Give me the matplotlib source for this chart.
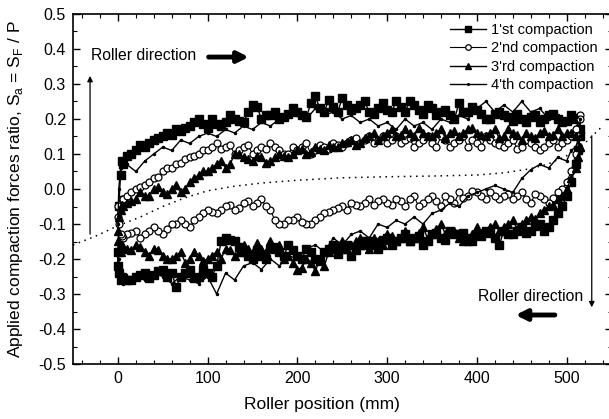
import matplotlib
matplotlib.use("Agg")
import matplotlib.pyplot as plt
from matplotlib.ticker import MultipleLocator

plt.rcParams['font.family'] = ['Liberation Sans', 'DejaVu Sans']
plt.rcParams['axes.unicode_minus'] = False
plt.rcParams['mathtext.fontset'] = 'custom'
plt.rcParams['mathtext.rm'] = 'Liberation Sans'

# roller position grids (mm)
x_up = [0, 1, 3, 6, 10, 20, 30, 40, 50, 60, 70, 80, 90, 100, 110, 120, 130, 140, 150, 160,
        170, 180, 190, 200, 210, 220, 230, 240, 250, 260, 270, 280, 290, 300, 310, 320, 330,
        340, 350, 360, 370, 380, 390, 400, 410, 420, 430, 440, 450, 460, 470, 480, 490, 500,
        510, 515]
x_lo = [0, 1, 3, 6, 10, 20, 30, 40, 50, 60, 70, 80, 90, 100, 110, 120, 130, 140, 150, 160,
        170, 180, 190, 200, 210, 220, 230, 240, 250, 260, 270, 280, 290, 300, 310, 320, 330,
        340, 350, 360, 370, 380, 390, 400, 410, 420, 430, 440, 450, 460, 470, 480, 490, 500,
        505, 510, 513, 515]
x_up_mid = [5, 15, 25, 35, 45, 55, 65, 75, 85, 95, 105, 115, 125, 135, 145, 155, 165, 175, 185,
            195, 205, 215, 225, 235, 245, 255, 265, 275, 285, 295, 305, 315, 325, 335, 345, 355,
            365, 375, 385, 395, 405, 415, 425, 435, 445, 455, 465, 475, 485, 495, 505]
x_lo_mid = x_up_mid[:-1]

# 1'st compaction
c1_up = [-0.22, -0.05, 0.04, 0.07, 0.095, 0.11, 0.12, 0.14, 0.15, 0.155, 0.165, 0.18, 0.2, 0.175,
         0.185, 0.19, 0.2, 0.19, 0.24, 0.2, 0.21, 0.2, 0.215, 0.22, 0.205, 0.265, 0.22, 0.235,
         0.26, 0.225, 0.24, 0.22, 0.23, 0.225, 0.25, 0.22, 0.24, 0.215, 0.23, 0.22, 0.21, 0.245,
         0.22, 0.225, 0.2, 0.215, 0.21, 0.195, 0.2, 0.205, 0.19, 0.21, 0.2, 0.195, 0.2, 0.17]
c1_up_mid = [0.08, 0.1, 0.125, 0.13, 0.145, 0.16, 0.17, 0.175, 0.19, 0.185, 0.2, 0.18, 0.21,
             0.195, 0.22, 0.235, 0.21, 0.22, 0.205, 0.23, 0.21, 0.245, 0.23, 0.255, 0.22, 0.24,
             0.23, 0.25, 0.215, 0.245, 0.22, 0.235, 0.25, 0.225, 0.24, 0.21, 0.225, 0.2, 0.22,
             0.235, 0.215, 0.2, 0.22, 0.205, 0.215, 0.19, 0.21, 0.2, 0.215, 0.19, 0.21]
c1_lo = [-0.18, -0.24, -0.26, -0.255, -0.26, -0.25, -0.24, -0.245, -0.23, -0.24, -0.25, -0.23,
         -0.25, -0.24, -0.22, -0.14, -0.15, -0.18, -0.2, -0.19, -0.17, -0.18, -0.16, -0.19, -0.17,
         -0.2, -0.18, -0.16, -0.17, -0.19, -0.16, -0.15, -0.17, -0.14, -0.15, -0.13, -0.14, -0.16,
         -0.13, -0.14, -0.12, -0.13, -0.14, -0.13, -0.12, -0.14, -0.12, -0.13, -0.11, -0.12, -0.1,
         -0.11, -0.07, -0.02, 0.02, 0.07, 0.11, 0.15]
c1_lo_mid = [-0.25, -0.26, -0.245, -0.255, -0.235, -0.25, -0.28, -0.24, -0.255, -0.23, -0.25,
             -0.15, -0.145, -0.165, -0.19, -0.175, -0.2, -0.165, -0.19, -0.175, -0.2, -0.18,
             -0.205, -0.17, -0.185, -0.16, -0.175, -0.15, -0.16, -0.145, -0.16, -0.14, -0.15,
             -0.135, -0.15, -0.125, -0.145, -0.13, -0.125, -0.15, -0.135, -0.125, -0.16, -0.13,
             -0.12, -0.125, -0.105, -0.12, -0.09, -0.05]

# 2'nd compaction
c2_up = [-0.08, -0.05, -0.04, -0.03, -0.02, 0.0, 0.01, 0.03, 0.05, 0.06, 0.075, 0.09, 0.1, 0.11,
         0.13, 0.12, 0.1, 0.12, 0.1, 0.12, 0.13, 0.11, 0.1, 0.11, 0.13, 0.11, 0.12, 0.13, 0.12,
         0.14, 0.13, 0.15, 0.14, 0.13, 0.15, 0.14, 0.12, 0.14, 0.13, 0.15, 0.12, 0.14, 0.12, 0.13,
         0.15, 0.13, 0.12, 0.14, 0.12, 0.13, 0.11, 0.13, 0.12, 0.14, 0.17, 0.21]
c2_up_mid = [-0.03, -0.01, 0.005, 0.02, 0.035, 0.06, 0.07, 0.085, 0.095, 0.11, 0.12, 0.115,
             0.125, 0.11, 0.125, 0.11, 0.115, 0.12, 0.1, 0.12, 0.12, 0.1, 0.125, 0.115, 0.125,
             0.13, 0.145, 0.14, 0.13, 0.15, 0.14, 0.13, 0.145, 0.13, 0.15, 0.12, 0.14, 0.13, 0.15,
             0.14, 0.12, 0.14, 0.125, 0.13, 0.115, 0.14, 0.12, 0.12, 0.14, 0.13, 0.15]
c2_lo = [-0.05, -0.1, -0.13, -0.14, -0.13, -0.12, -0.13, -0.11, -0.13, -0.1, -0.09, -0.11, -0.08,
         -0.06, -0.07, -0.05, -0.06, -0.04, -0.05, -0.03, -0.06, -0.1, -0.09, -0.08, -0.1, -0.09,
         -0.07, -0.06, -0.05, -0.04, -0.05, -0.03, -0.035, -0.04, -0.03, -0.05, -0.02, -0.04,
         -0.02, -0.05, -0.03, -0.01, -0.02, -0.01, -0.03, -0.02, -0.02, -0.03, -0.01, -0.04, -0.02,
         -0.04, -0.01, 0.02, 0.05, 0.1, 0.15, 0.2]
c2_lo_mid = [-0.135, -0.125, -0.14, -0.12, -0.12, -0.115, -0.1, -0.1, -0.09, -0.07, -0.065,
             -0.06, -0.045, -0.055, -0.035, -0.04, -0.05, -0.09, -0.1, -0.09, -0.095, -0.1, -0.08,
             -0.065, -0.055, -0.06, -0.045, -0.04, -0.045, -0.03, -0.045, -0.035, -0.03, -0.05,
             -0.03, -0.035, -0.02, -0.04, -0.025, -0.005, -0.02, -0.01, -0.03, -0.015, -0.02,
             -0.03, -0.015, -0.03, -0.025, 0.0]

# 3'rd compaction
c3_up = [-0.12, -0.08, -0.06, -0.05, -0.04, -0.03, -0.02, 0.0, -0.01, 0.0, -0.01, 0.02, 0.04,
         0.05, 0.07, 0.06, 0.1, 0.09, 0.08, 0.09, 0.08, 0.1, 0.09, 0.11, 0.1, 0.12, 0.11, 0.12,
         0.13, 0.14, 0.13, 0.15, 0.14, 0.16, 0.15, 0.17, 0.15, 0.16, 0.15, 0.17, 0.16, 0.15, 0.17,
         0.16, 0.15, 0.17, 0.15, 0.16, 0.14, 0.15, 0.16, 0.15, 0.17, 0.16, 0.15, 0.12]
c3_up_mid = [-0.045, -0.035, -0.01, -0.02, 0.005, -0.015, 0.01, 0.0, 0.03, 0.05, 0.06, 0.08,
             0.07, 0.1, 0.085, 0.095, 0.075, 0.09, 0.095, 0.1, 0.115, 0.105, 0.115, 0.125, 0.12,
             0.135, 0.125, 0.145, 0.16, 0.15, 0.17, 0.155, 0.16, 0.175, 0.15, 0.16, 0.145, 0.165,
             0.16, 0.175, 0.155, 0.16, 0.145, 0.17, 0.155, 0.16, 0.145, 0.165, 0.155, 0.15, 0.16]
c3_lo = [-0.15, -0.17, -0.18, -0.165, -0.17, -0.16, -0.18, -0.17, -0.19, -0.2, -0.18, -0.2,
         -0.19, -0.2, -0.18, -0.17, -0.19, -0.16, -0.18, -0.17, -0.15, -0.16, -0.19, -0.23, -0.2,
         -0.235, -0.22, -0.17, -0.15, -0.16, -0.14, -0.17, -0.15, -0.13, -0.15, -0.12, -0.14,
         -0.11, -0.13, -0.1, -0.12, -0.14, -0.15, -0.11, -0.12, -0.1, -0.11, -0.09, -0.1, -0.08,
         -0.07, -0.05, -0.03, 0.0, 0.03, 0.06, 0.09, 0.12]
c3_lo_mid = [-0.16, -0.175, -0.165, -0.19, -0.175, -0.2, -0.19, -0.21, -0.18, -0.205, -0.19,
             -0.2, -0.175, -0.18, -0.17, -0.155, -0.18, -0.165, -0.2, -0.21, -0.225, -0.21, -0.2,
             -0.18, -0.16, -0.17, -0.15, -0.16, -0.14, -0.16, -0.135, -0.14, -0.15, -0.125, -0.14,
             -0.115, -0.13, -0.12, -0.15, -0.13, -0.125, -0.11, -0.12, -0.1, -0.115, -0.09, -0.085,
             -0.06, -0.045, -0.02]

# 4'th compaction
c4_up = [-0.1, 0.0, 0.06, 0.08, 0.07, 0.05, 0.08, 0.1, 0.12, 0.11, 0.14, 0.13, 0.15, 0.16, 0.15,
         0.17, 0.16, 0.18, 0.17, 0.19, 0.18, 0.2, 0.22, 0.21, 0.2, 0.23, 0.21, 0.22, 0.2, 0.21,
         0.19, 0.2, 0.18, 0.19, 0.17, 0.2, 0.18, 0.19, 0.17, 0.2, 0.19, 0.21, 0.2, 0.23, 0.25,
         0.22, 0.24, 0.22, 0.25, 0.22, 0.23, 0.2, 0.21, 0.2, 0.21, 0.2]
c4_lo = [-0.15, -0.2, -0.25, -0.27, -0.26, -0.25, -0.26, -0.24, -0.25, -0.27, -0.25, -0.26,
         -0.27, -0.25, -0.3, -0.24, -0.26, -0.22, -0.21, -0.23, -0.2, -0.22, -0.19, -0.2, -0.17,
         -0.16, -0.18, -0.14, -0.16, -0.13, -0.12, -0.14, -0.1, -0.11, -0.09, -0.1, -0.08, -0.1,
         -0.07, -0.06, -0.04, -0.05, -0.02, -0.01, 0.0, 0.01, 0.0, -0.01, 0.03, 0.055, 0.07, 0.06,
         0.09, 0.08, 0.11, 0.12, 0.14, 0.15]

# dotted reference curve
dot_x = [-50, -25, 0, 25, 50, 75, 100, 130, 160, 200, 250, 300, 350, 400, 430, 460, 480, 500,
         520, 540]
dot_y = [-0.16, -0.135, -0.105, -0.08, -0.05, -0.025, -0.005, 0.008, 0.017, 0.025, 0.032, 0.035,
         0.037, 0.04, 0.046, 0.058, 0.072, 0.095, 0.13, 0.18]

labels = ["1'st compaction", "2'nd compaction", "3'rd compaction", "4'th compaction"]


def loop(xu, yu, xl, yl):
    up = sorted(zip(xu, yu))
    lo = sorted(zip(xl, yl), reverse=True)
    pts = up + lo
    return [p[0] for p in pts], [p[1] for p in pts]


fig = plt.figure(figsize=(6.09, 4.19), dpi=100)
ax = fig.add_axes([73 / 609, 55 / 419, 538.5 / 609, 350 / 419])

series = [
    (loop(x_up + x_up_mid, c1_up + c1_up_mid, x_lo + x_lo_mid, c1_lo + c1_lo_mid),
     dict(marker='s', ms=5.3, mfc='black', mec='black', lw=1.0)),
    (loop(x_up + x_up_mid, c2_up + c2_up_mid, x_lo + x_lo_mid, c2_lo + c2_lo_mid),
     dict(marker='o', ms=5, mfc='white', mec='black', mew=0.9, lw=0.8)),
    (loop(x_up + x_up_mid, c3_up + c3_up_mid, x_lo + x_lo_mid, c3_lo + c3_lo_mid),
     dict(marker='^', ms=5.8, mfc='black', mec='black', lw=1.0)),
    (loop(x_up, c4_up, x_lo, c4_lo),
     dict(marker='.', ms=3, mfc='black', mec='black', lw=1.0)),
]

for ((xs, ys), st), lab in zip(series, labels):
    ax.plot(xs, ys, color='black', label=lab, **st)

ax.plot(dot_x, dot_y, color='black', lw=1.1, linestyle=(0, (1, 3)))

ax.set_xlim(-50, 550)
ax.set_ylim(-0.5, 0.5)
ax.xaxis.set_major_locator(MultipleLocator(100))
ax.xaxis.set_minor_locator(MultipleLocator(20))
ax.yaxis.set_major_locator(MultipleLocator(0.1))
ax.yaxis.set_minor_locator(MultipleLocator(0.05))
ax.yaxis.set_major_formatter(plt.FormatStrFormatter('%.1f'))
ax.tick_params(which='both', direction='in', top=True, right=True, labelsize=11.5)
ax.tick_params(which='major', length=5, width=1, pad=5)
ax.tick_params(which='minor', length=3, width=0.8)
for s in ax.spines.values():
    s.set_linewidth(1.2)

ax.set_xlabel('Roller position (mm)', fontsize=12.5)
ax.xaxis.set_label_coords(0.462, -0.095)
ax.set_ylabel('Applied compaction forces ratio, S$_\\mathregular{a}$ = S$_\\mathregular{F}$ / P',
              fontsize=12.5)
ax.yaxis.set_label_coords(-0.09, 0.5)

# direction annotations
ax.text(-30, 0.38, 'Roller direction', fontsize=11.3, ha='left', va='center')
ax.annotate('', xy=(149, 0.377), xytext=(98, 0.377),
            arrowprops=dict(arrowstyle='-|>', lw=3.5, color='black', mutation_scale=16))
ax.annotate('', xy=(-31, 0.331), xytext=(-31, -0.137),
            arrowprops=dict(arrowstyle='-|>', lw=0.9, color='black', mutation_scale=8))
ax.text(401, -0.306, 'Roller direction', fontsize=11.3, ha='left', va='center')
ax.annotate('', xy=(440, -0.36), xytext=(490, -0.36),
            arrowprops=dict(arrowstyle='-|>', lw=3.5, color='black', mutation_scale=16))
ax.annotate('', xy=(528, -0.346), xytext=(528, 0.16),
            arrowprops=dict(arrowstyle='-|>', lw=0.9, color='black', mutation_scale=8))

ax.legend(loc='upper left', bbox_to_anchor=(450 / 609, 1 - 23 / 419), bbox_transform=fig.transFigure,
          frameon=False, fontsize=10.5, borderpad=0, borderaxespad=0, handlelength=2.5,
          handletextpad=0.3, labelspacing=0.3, markerscale=0.8)

fig.savefig('out.png', dpi=100)
